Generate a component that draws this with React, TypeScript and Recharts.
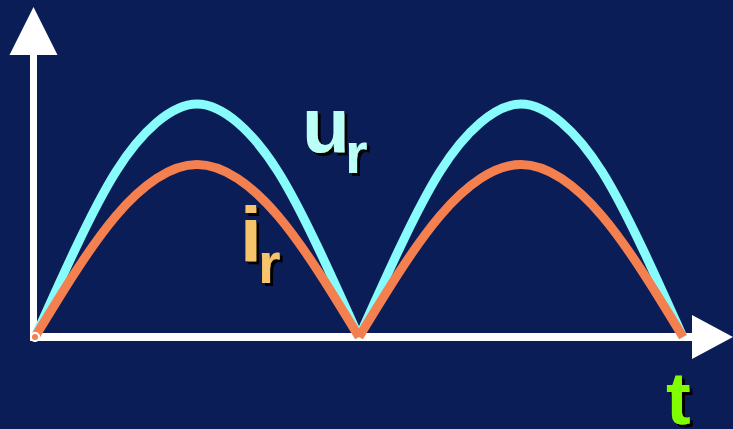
import React from "react";
import { ComposedChart, Line, XAxis, YAxis, ReferenceLine, ReferenceDot } from "recharts";

// time steps: two half periods of 8 steps each
const times = [0, 1, 2, 3, 4, 5, 6, 7, 8, 9, 10, 11, 12, 13, 14, 15, 16];
// rectified voltage u_r (peak = 1)
const uValues = [0, 0.38, 0.71, 0.92, 1.0, 0.92, 0.71, 0.38, 0, 0.38, 0.71, 0.92, 1.0, 0.92, 0.71, 0.38, 0];
// rectified current i_r
const iValues = [0, 0.28, 0.52, 0.68, 0.74, 0.68, 0.52, 0.28, 0, 0.28, 0.52, 0.68, 0.74, 0.68, 0.52, 0.28, 0];

const W = 733;
const H = 429;
const BG = "#0b1d57";
const CYAN = "#88fcfc";
const ORANGE = "#f47f4f";
const FONT = "'Liberation Sans', Arial, sans-serif";

// split each curve into its two humps so the zero crossings stay sharp
const data = times.map((t, k) => ({
  t,
  u1: k <= 8 ? uValues[k] : null,
  u2: k >= 8 ? uValues[k] : null,
  i1: k <= 8 ? iValues[k] : null,
  i2: k >= 8 ? iValues[k] : null,
}));

const upArrow = (p: any) => (
  <polygon points={`${p.cx},${p.cy} ${p.cx - 24},${p.cy + 48} ${p.cx + 24},${p.cy + 48}`} fill="#fff" />
);
const rightArrow = (p: any) => (
  <polygon points={`${p.cx},${p.cy} ${p.cx - 41},${p.cy - 22} ${p.cx - 41},${p.cy + 22}`} fill="#fff" />
);

function Label({ x, y, main, sub, color, size, subSize, subDx, subDy }: any) {
  return (
    <text x={x} y={y} fill={color} fontFamily={FONT} fontWeight="bold" filter="url(#shadow)">
      <tspan fontSize={size}>{main}</tspan>
      {sub ? (
        <tspan fontSize={subSize} x={x + subDx} y={y + subDy}>
          {sub}
        </tspan>
      ) : null}
    </text>
  );
}

export default function App() {
  return (
    <div style={{ position: "fixed", left: 0, top: 0, width: W, height: H, background: BG }}>
      <ComposedChart width={W} height={H} data={data} margin={{ top: 0, right: 0, bottom: 0, left: 0 }}>
        <XAxis dataKey="t" type="number" domain={[-0.8642, 17.2346]} hide allowDataOverflow />
        <YAxis type="number" domain={[-0.3948, 1.4464]} hide allowDataOverflow />
        <ReferenceLine
          segment={[{ x: -0.037, y: -0.013 }, { x: -0.037, y: 1.232 }]}
          stroke="#fff"
          strokeWidth={7}
          ifOverflow="visible"
        />
        <ReferenceLine
          segment={[{ x: -0.12, y: 0 }, { x: 16.3, y: 0 }]}
          stroke="#fff"
          strokeWidth={8}
          ifOverflow="visible"
        />
        <ReferenceDot x={-0.037} y={1.416} r={1} shape={upArrow} ifOverflow="visible" />
        <ReferenceDot x={17.2346} y={0} r={1} shape={rightArrow} ifOverflow="visible" />
        <Line dataKey="u1" type="natural" stroke={CYAN} strokeWidth={9} dot={false} isAnimationActive={false} />
        <Line dataKey="u2" type="natural" stroke={CYAN} strokeWidth={9} dot={false} isAnimationActive={false} />
        <Line dataKey="i1" type="natural" stroke={ORANGE} strokeWidth={9} dot={false} isAnimationActive={false} />
        <Line dataKey="i2" type="natural" stroke={ORANGE} strokeWidth={9} dot={false} isAnimationActive={false} />
      </ComposedChart>
      <svg width={W} height={H} style={{ position: "absolute", left: 0, top: 0, pointerEvents: "none" }}>
        <defs>
          <filter id="shadow" x="-20%" y="-20%" width="140%" height="140%">
            <feDropShadow dx="3" dy="3" stdDeviation="0.3" floodColor="#000" floodOpacity="1" />
          </filter>
        </defs>
        <Label x={302} y={152} main="u" sub="r" color="#bbfff7" size={78} subSize={58} subDx={43} subDy={21} />
        <Label x={240} y={262} main="i" sub="r" color="#f6c46a" size={78} subSize={58} subDx={18} subDy={21} />
        <Label x={666} y={424} main="t" color="#80ff00" size={74} />
      </svg>
    </div>
  );
}
